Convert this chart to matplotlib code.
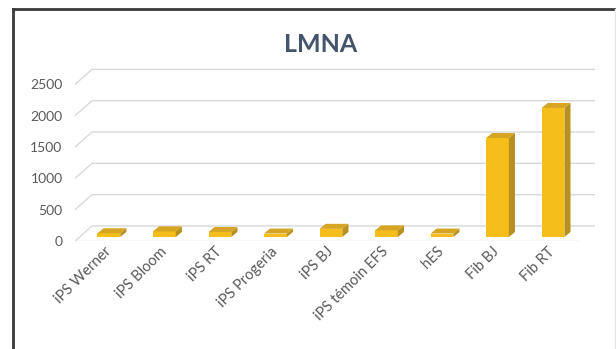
import matplotlib.pyplot as plt
from matplotlib.patches import Polygon
from matplotlib.lines import Line2D

plt.rcParams['font.family'] = ['Lato', 'DejaVu Sans']

categories = ['iPS Werner', 'iPS Bloom', 'iPS RT', 'iPS Progeria', 'iPS BJ',
              'iPS témoin EFS', 'hES', 'Fib BJ', 'Fib RT']
values = [60, 90, 80, 55, 130, 105, 55, 1580, 2060]
yticks = [0, 500, 1000, 1500, 2000, 2500]

# fake 3D geometry (category units / value units)
bar_w = 0.41
bar_dx, bar_dy = 0.11, 80
base = 64
wall_dx, wall_dy = 0.306, 240
x0, x1 = -0.61, 8.45

front = '#F5BE1A'
side = '#B8901F'
top = '#D6A523'
grid_c = '#D9D9D9'

fig = plt.figure(figsize=(6.16, 3.49), dpi=100)
ax = fig.add_axes([75 / 616, 108 / 349, 520 / 616, 181 / 349])
ax.set_xlim(x0, x1 + wall_dx)
ax.set_ylim(0, 2890)
for s in ax.spines.values():
    s.set_visible(False)

# back wall gridlines + floor
for v in yticks:
    ax.plot([x0, x0 + wall_dx, x1 + wall_dx], [v, v + wall_dy, v + wall_dy],
            color=grid_c, lw=1, zorder=1)
ax.plot([x0, x1], [0, 0], color=grid_c, lw=1, zorder=1)

# bars
for i, v in enumerate(values):
    l, r = i - bar_w / 2, i + bar_w / 2
    ax.add_patch(Polygon([(l, base), (r, base), (r, base + v), (l, base + v)],
                         closed=True, fc=front, ec='none', zorder=3))
    ax.add_patch(Polygon([(r, base), (r + bar_dx, base + bar_dy),
                          (r + bar_dx, base + v + bar_dy), (r, base + v)],
                         closed=True, fc=side, ec='none', zorder=3))
    ax.add_patch(Polygon([(l, base + v), (r, base + v),
                          (r + bar_dx, base + v + bar_dy), (l + bar_dx, base + v + bar_dy)],
                         closed=True, fc=top, ec='none', zorder=3))

ax.set_yticks(yticks)
ax.set_yticklabels([str(t) for t in yticks], color='#595959', fontsize=10)
ax.tick_params(axis='y', length=0, pad=9)
ax.set_xticks(range(len(categories)))
ax.set_xticklabels(categories, rotation=45, ha='right', va='center',
                   rotation_mode='anchor', color='#595959', fontsize=10.5)
ax.tick_params(axis='x', length=0, pad=6)

fig.text(0.52, 1 - 44 / 349, 'LMNA', ha='center', va='center',
         fontsize=18, fontweight='bold', color='#44546A')

# frame
fig.add_artist(Line2D([13 / 616, 1], [1 - 9 / 349] * 2, color='#3A3A3A', lw=2))
fig.add_artist(Line2D([13 / 616] * 2, [0, 1 - 9 / 349], color='#3A3A3A', lw=2))
fig.add_artist(Line2D([615 / 616] * 2, [0, 1 - 9 / 349], color='#E6E6E6', lw=1))

fig.savefig('out.png', dpi=100)
